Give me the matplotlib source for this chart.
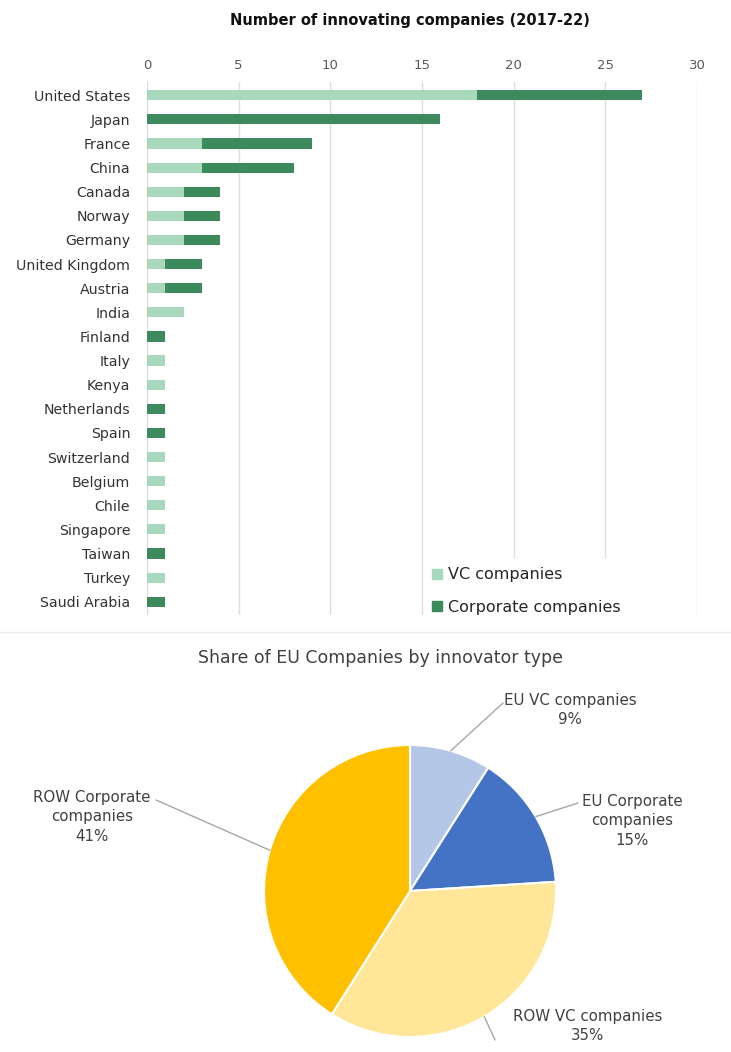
import numpy as np
import matplotlib.pyplot as plt
from matplotlib.patches import Patch
from matplotlib.lines import Line2D

# companies per country, split by innovator type
countries = ['United States', 'Japan', 'France', 'China', 'Canada', 'Norway',
             'Germany', 'United Kingdom', 'Austria', 'India', 'Finland', 'Italy',
             'Kenya', 'Netherlands', 'Spain', 'Switzerland', 'Belgium', 'Chile',
             'Singapore', 'Taiwan', 'Turkey', 'Saudi Arabia']
vc = [18, 0, 3, 3, 2, 2, 2, 1, 1, 2, 0, 1, 1, 0, 0, 1, 1, 1, 1, 0, 1, 0]
corporate = [9, 16, 6, 5, 2, 2, 2, 2, 2, 0, 1, 0, 0, 1, 1, 0, 0, 0, 0, 1, 0, 1]
x_ticks = [0, 5, 10, 15, 20, 25, 30]

# share of EU companies by innovator type
pie_labels = ['EU VC companies', 'EU Corporate\ncompanies', 'ROW VC companies',
              'ROW Corporate\ncompanies']
pie_shares = [9, 15, 35, 41]

VC_COL = '#a8d9bd'
CORP_COL = '#3d8a5d'
GRID_COL = '#dedede'
TXT_COL = '#404040'

plt.rcParams['font.family'] = 'DejaVu Sans'

W, H = 731, 1052
fig = plt.figure(figsize=(W / 100, H / 100), dpi=100)

def box(x0, y0, x1, y1):
    # pixel box (top-left origin) -> figure fraction rect
    return [x0 / W, 1 - y1 / H, (x1 - x0) / W, (y1 - y0) / H]

# ---- stacked bars ----
ax = fig.add_axes(box(147, 82, 697, 615))
y = np.arange(len(countries))
ax.barh(y, vc, height=0.42, color=VC_COL, zorder=3)
ax.barh(y, corporate, left=vc, height=0.42, color=CORP_COL, zorder=3)
ax.set_xlim(0, 30)
ax.set_ylim(len(countries) - 0.45, -0.55)
ax.set_xticks(x_ticks)
ax.xaxis.tick_top()
ax.tick_params(axis='x', length=0, pad=7.5, labelsize=9.5, labelcolor='#595959')
ax.set_yticks(y)
ax.set_yticklabels(countries)
ax.tick_params(axis='y', length=0, pad=12, labelsize=10.2, labelcolor='#333333')
ax.grid(axis='x', color=GRID_COL, linewidth=1, zorder=0)
for s in ax.spines.values():
    s.set_visible(False)

handles = [Patch(color=VC_COL), Patch(color=CORP_COL)]
leg = ax.legend(handles, ['VC companies', 'Corporate companies'],
                loc='lower left', bbox_to_anchor=(0.49, -0.03),
                frameon=True, fontsize=11.5, handlelength=0.6, handleheight=0.6,
                handletextpad=0.4, labelspacing=1.1, borderpad=0.5,
                labelcolor='#262626')
leg.get_frame().set_edgecolor('white')
leg.get_frame().set_facecolor('white')
leg.get_frame().set_alpha(1)
leg.set_zorder(5)

fig.text(410 / W, 1 - 20 / H, 'Number of innovating companies (2017-22)',
         ha='center', va='center', fontsize=10.5, fontweight='bold', color='#111111')

# separator between the two panels
fig.add_artist(Line2D([0, 1], [1 - 632 / H] * 2, color='#ececec', linewidth=1))

# ---- pie ----
fig.text(380 / W, 1 - 658 / H, 'Share of EU Companies by innovator type',
         ha='center', va='center', fontsize=12.5, color=TXT_COL)

pax = fig.add_axes(box(264, 745, 556, 1037))
pie_cols = ['#b4c7e7', '#4472c4', '#ffe699', '#ffc000']
wedges, _ = pax.pie(pie_shares, colors=pie_cols, startangle=90,
                    counterclock=False, radius=1,
                    wedgeprops=dict(edgecolor='white', linewidth=1.5))
pax.set_xlim(-1, 1)
pax.set_ylim(-1, 1)
pax.set_aspect('equal')

# label centres and leader line ends in figure pixels
label_pos = [(570, 710), (632, 821), (588, 1026), (92, 817)]
line_end = [(503, 703), (578, 803), (495, 1040), (156, 800)]
to_fig = lambda p: (p[0] / W, 1 - p[1] / H)
for w, lab, val, lp, le in zip(wedges, pie_labels, pie_shares, label_pos, line_end):
    ang = np.deg2rad((w.theta1 + w.theta2) / 2)
    start = (np.cos(ang), np.sin(ang))
    fig.text(*to_fig(lp), f'{lab}\n{val}%', ha='center', va='center',
             fontsize=10.8, color=TXT_COL, linespacing=1.4)
    pax.annotate('', xy=start, xycoords='data', xytext=to_fig(le),
                 textcoords='figure fraction',
                 arrowprops=dict(arrowstyle='-', color='#a6a6a6', linewidth=1,
                                 shrinkA=0, shrinkB=0))

fig.savefig('out.png', dpi=100, facecolor='white')
